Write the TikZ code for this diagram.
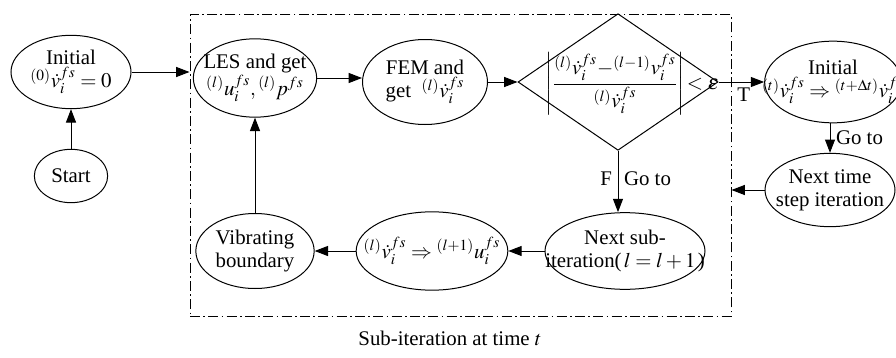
\documentclass[tikz,border=0pt]{standalone}
\usepackage{mathptmx}
\usepackage{fontspec}
\setmainfont{Liberation Serif}
\usepackage{tikz}
\usetikzlibrary{shapes.geometric,arrows.meta,positioning}

\begin{document}
\begin{tikzpicture}[
    x=0.6pt,y=-0.6pt,
    font=\fontsize{12.5}{14}\selectfont,
    line width=0.6pt,
    blob/.style={ellipse,draw,inner xsep=-3em,inner ysep=0pt,align=center},
    decision/.style={diamond,draw,inner sep=0pt,minimum width=120pt,minimum height=82pt},
    arrow/.style={-{Triangle[length=8pt,width=6pt]}},
    frame/.style={draw,dash pattern=on 6pt off 2pt on 1pt off 2pt,inner sep=0pt}
]
\useasboundingbox (0,0) rectangle (896,358);

% Inicio
\node[blob,minimum width=72pt,minimum height=44pt] (init) at (71,72) {Initial\\ ${}^{(0)}\dot{v}_i^{fs}=0$};
\node[blob,minimum width=44pt,minimum height=32pt] (start) at (71,176) {Start};

% Subiteracion
\node[frame,minimum width=324.6pt,minimum height=181pt] (subbox) at (460.5,165.5) {};
\node[blob,minimum width=74pt,minimum height=47pt] (les) at (255,78) {LES and get\\ ${}^{(l)}u_i^{fs},{}^{(l)}p^{fs}$};
\node[blob,minimum width=75pt,minimum height=51pt] (fem) at (425,82) {FEM and\\ get\ \ ${}^{(l)}\dot{v}_i^{fs}$};
\node[decision] (check) at (618,82) {};
\node[inner sep=0pt] (checktext) at (632,84)
    {$\displaystyle\left|\frac{{}^{(l)}\dot{v}_i^{fs}{-}{}^{(l-1)}v_i^{fs}}{{}^{(l)}\dot{v}_i^{fs}}\right|\!<\varepsilon$};
\node[blob,minimum width=96pt,minimum height=46pt] (nextsub) at (625,251) {Next sub-\\ iteration($\,l=l+1\,$)};
\node[blob,minimum width=91pt,minimum height=47pt] (update) at (432,251) {${}^{(l)}\dot{v}_i^{fs}\Rightarrow{}^{(l+1)}u_i^{fs}$};
\node[blob,minimum width=71pt,minimum height=45pt] (vib) at (255,251) {Vibrating\\ boundary};

% Paso de tiempo
\node[blob,minimum width=82pt,minimum height=49pt] (step) at (833,82) {Initial\\ ${}^{(t)}\dot{v}_i^{fs}\Rightarrow{}^{(t+\Delta t)}\dot{v}_i^{fs}$};
\node[blob,minimum width=78pt,minimum height=44pt] (nextstep) at (830,190) {Next time\\ step iteration};

% Conexiones
\draw[arrow] (start) -- (init);
\draw[arrow] (init) -- (init -| subbox.west);
\draw[arrow] (les.east) -- (les.east -| fem.west);
\draw[arrow] (fem) -- (check);
\draw[arrow] (check.east) -- (check.east -| step.west) node[pos=0.55,below] (tlabel) {T};
\draw[arrow] (check.south) -- (check.south |- nextsub.north)
    node[pos=0.45,left] (flabel) {F} node[pos=0.45,right] (fgoto) {Go to};
\draw[arrow] (nextsub) -- (update);
\draw[arrow] (update) -- (vib);
\draw[arrow] (vib) -- (les);
\draw[arrow] (step.south -| nextstep.north) -- (nextstep.north) node[midway,right] (sgoto) {Go to};
\draw[arrow] (nextstep.west) -- (nextstep.west -| subbox.east);

% Titulo
\node (caption) at (450,338) {Sub-iteration at time $t$};

\end{tikzpicture}
\end{document}
